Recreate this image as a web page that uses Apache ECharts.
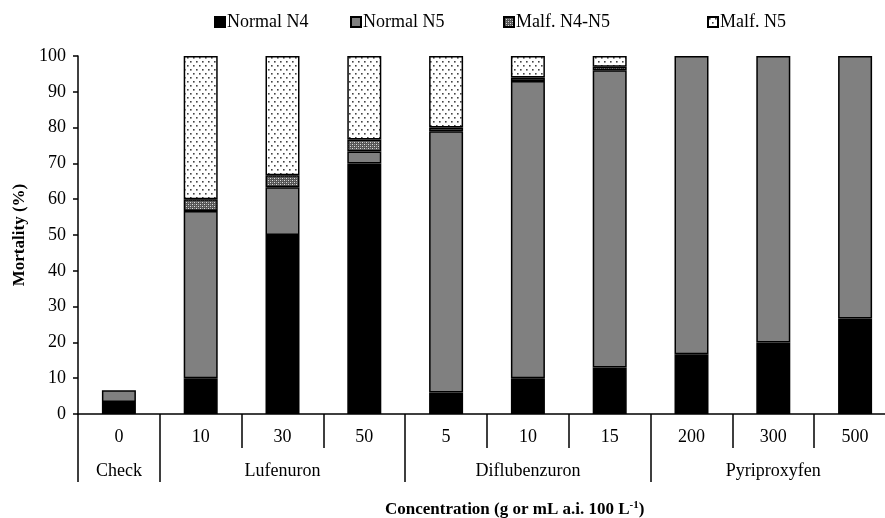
<!DOCTYPE html>
<html>
<head>
<meta charset="utf-8">
<script src="https://cdn.jsdelivr.net/npm/echarts@6/dist/echarts.min.js"></script>
<style>
html,body{margin:0;padding:0;background:#fff;}
#chart{width:885px;height:518px;}
</style>
</head>
<body>
<div id="chart"></div>
<script>
// ---- Data ----
const categories = ['0', '10', '30', '50', '5', '10', '15', '200', '300', '500'];
const groups = ['Check', 'Lufenuron', 'Diflubenzuron', 'Pyriproxyfen'];
const groupSizes = [1, 3, 3, 3];
const seriesNames = ['Normal N4', 'Normal N5', 'Malf. N4-N5', 'Malf. N5'];
const normalN4 = [3.33, 10, 50, 70, 6, 10, 13, 16.67, 20, 26.67];
const normalN5 = [3.33, 46.67, 13.33, 3.33, 73, 83, 83, 83.33, 80, 73.33];
const malfN4N5 = [0, 3.33, 3.33, 3.33, 1, 1, 1, 0, 0, 0];
const malfN5 = [0, 40, 33.34, 23.34, 20, 6, 3, 0, 0, 0];
const yTicks = [0, 10, 20, 30, 40, 50, 60, 70, 80, 90, 100];

// ---- Patterns ----
function dotPattern() {
  const c = document.createElement('canvas');
  c.width = 6; c.height = 8;
  const g = c.getContext('2d');
  g.fillStyle = '#fff'; g.fillRect(0, 0, 6, 8);
  g.fillStyle = '#444';
  g.fillRect(1, 1, 1.6, 1.6);
  g.fillRect(4, 5, 1.6, 1.6);
  return c;
}
function checkPattern() {
  const c = document.createElement('canvas');
  c.width = 4; c.height = 4;
  const g = c.getContext('2d');
  g.fillStyle = '#555'; g.fillRect(0, 0, 4, 4);
  g.fillStyle = '#ddd';
  g.fillRect(0, 0, 1, 1);
  g.fillRect(2, 2, 1, 1);
  g.fillStyle = '#999';
  g.fillRect(2, 0, 1, 1);
  g.fillRect(0, 2, 1, 1);
  return c;
}

const fills = ['#000000', '#808080', { image: checkPattern(), repeat: 'repeat' }, { image: dotPattern(), repeat: 'repeat' }];
const values = [normalN4, normalN5, malfN4N5, malfN5];

// group boundaries & label positions
const boundaries = [];
const groupLabelAt = {};
let idx = 0;
groups.forEach((gname, i) => {
  boundaries.push(idx);
  groupLabelAt[idx + Math.floor(groupSizes[i] / 2)] = gname;
  idx += groupSizes[i];
});
const groupRow = categories.map((_, i) => groupLabelAt[i] || '');

const FONT = '"Liberation Serif", "Times New Roman", serif';
const legendLefts = [209, 345, 498, 702];

const chart = echarts.init(document.getElementById('chart'), null, { renderer: 'canvas' });
chart.setOption({
  animation: false,
  backgroundColor: '#fff',
  textStyle: { fontFamily: FONT, color: '#000' },
  legend: seriesNames.map((n, i) => ({
    top: 8,
    left: legendLefts[i],
    itemWidth: 10,
    itemHeight: 10,
    itemGap: 0,
    icon: 'rect',
    selectedMode: false,
    textStyle: { fontFamily: FONT, fontSize: 18, color: '#000', padding: [0, 0, 0, -3] },
    data: [n]
  })),
  title: {
    text: 'Concentration (g or mL a.i. 100 L{sup|-1})',
    left: 380,
    top: 495,
    textStyle: {
      fontFamily: FONT, fontSize: 17, fontWeight: 'bold', color: '#000',
      rich: { sup: { fontFamily: FONT, fontSize: 11, fontWeight: 'bold', verticalAlign: 'top', padding: [0, 0, 8, 0] } }
    }
  },
  grid: { left: 78, top: 56, width: 818, height: 358, outerBoundsMode: 'none', containLabel: false },
  xAxis: [
    {
      type: 'category',
      data: categories,
      position: 'bottom',
      axisLine: { lineStyle: { color: '#000', width: 1.5 } },
      axisTick: { show: true, length: 34, interval: 0, lineStyle: { color: '#000', width: 1.5 } },
      axisLabel: { interval: 0, margin: 14, fontFamily: FONT, fontSize: 18, color: '#000' }
    },
    {
      type: 'category',
      data: groupRow,
      position: 'bottom',
      offset: 34,
      axisLine: { show: false },
      axisTick: {
        show: true, length: 34,
        interval: (i) => boundaries.indexOf(i) >= 0,
        lineStyle: { color: '#000', width: 1.5 }
      },
      axisLabel: { interval: 0, margin: 14, fontFamily: FONT, fontSize: 18, color: '#000' }
    }
  ],
  yAxis: {
    type: 'value',
    min: yTicks[0],
    max: yTicks[yTicks.length - 1],
    interval: yTicks[1] - yTicks[0],
    name: 'Mortality (%)',
    nameLocation: 'middle',
    nameGap: 49,
    nameTextStyle: { fontFamily: FONT, fontSize: 17, fontWeight: 'bold', color: '#000' },
    splitLine: { show: false },
    axisLine: { show: true, lineStyle: { color: '#000', width: 1.5 } },
    axisTick: { show: true, length: 5, lineStyle: { color: '#000', width: 1.5 } },
    axisLabel: { margin: 12, fontFamily: FONT, fontSize: 18, color: '#000' }
  },
  series: seriesNames.map((name, s) => ({
    name: name,
    type: 'bar',
    stack: 'total',
    xAxisIndex: 0,
    barWidth: 34,
    data: values[s].map(v => (v === 0 ? '-' : v)),
    itemStyle: { color: fills[s], borderColor: '#000', borderWidth: 1.5 }
  }))
});
</script>
</body>
</html>
